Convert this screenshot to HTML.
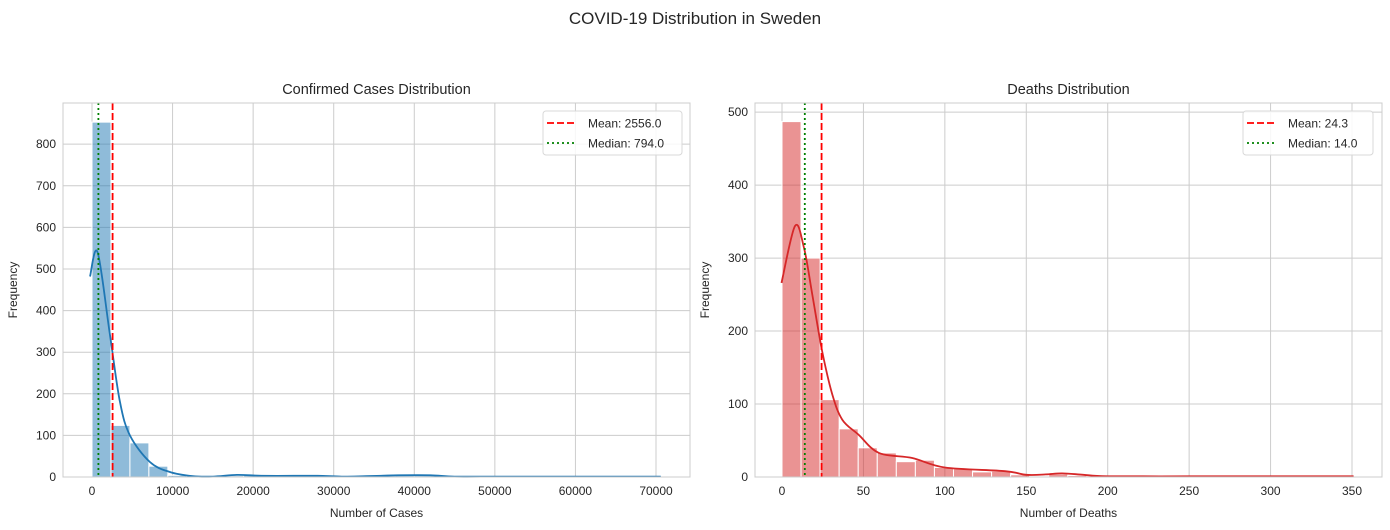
<!DOCTYPE html>
<html><head><meta charset="utf-8"><style>
body{margin:0;background:#fff;}
svg{display:block;font-family:"Liberation Sans",Arial,sans-serif;}
</style></head><body>
<svg id="fig" width="1390" height="530" viewBox="0 0 1390 530">
<text x="695" y="24" font-size="17" text-anchor="middle" fill="#262626">COVID-19 Distribution in Sweden</text>
</svg>
<script>
// ---- Confirmed cases data ----
const casesBinStart = 0;
const casesBinWidth = 2353;
const casesCounts = [853,124,82,26,4,1,0,3,5,2,3,2,2,1,0,2,3,3,3,2,0,0,1,0,0,0,1,0,0,1];
const casesKdeX = [-250,700,2230,3470,4710,7190,9670,12500,15000,18000,21000,25000,28000,31000,34000,38000,42000,45000,50000,55000,60000,65000,70600];
const casesKdeY = [482,540,341,180,100,36,12,2,1,5,3,3,3,1,2,4,4,1,1,1,1,1,1];
const casesXTicks = [0,10000,20000,30000,40000,50000,60000,70000];
const casesYTicks = [0,100,200,300,400,500,600,700,800];
const casesMean = 2556.0;
const casesMedian = 794.0;
// ---- Deaths data ----
const deathsBinStart = 0;
const deathsBinWidth = 11.7;
const deathsCounts = [487,300,106,66,40,33,21,23,13,11,7,8,3,1,4,2,1,1,0,0,1,0,0,0,0,0,0,0,0,1];
const deathsKdeX = [-0.3,8,13.5,18.6,24.7,30.9,37,47,59.5,80,100,137,150,162,172,185,200,250,300,351];
const deathsKdeY = [266,344,314,250,172,113,78.5,58,33,26,13,8,3,3.5,5,3,1,1,1,1];
const deathsXTicks = [0,50,100,150,200,250,300,350];
const deathsYTicks = [0,100,200,300,400,500];
const deathsMean = 24.3;
const deathsMedian = 14.0;

const NS="http://www.w3.org/2000/svg";
const svg=document.getElementById('fig');
function mk(tag,attrs,parent){const e=document.createElementNS(NS,tag);for(const k in attrs)e.setAttribute(k,attrs[k]);(parent||svg).appendChild(e);return e;}
function smoothPath(pts){
  let d='M'+pts[0][0].toFixed(1)+','+pts[0][1].toFixed(1);
  for(let i=0;i<pts.length-1;i++){
    const p0=pts[Math.max(0,i-1)],p1=pts[i],p2=pts[i+1],p3=pts[Math.min(pts.length-1,i+2)];
    const c1x=p1[0]+(p2[0]-p0[0])/6,c1y=p1[1]+(p2[1]-p0[1])/6;
    const c2x=p2[0]-(p3[0]-p1[0])/6,c2y=p2[1]-(p3[1]-p1[1])/6;
    d+='C'+c1x.toFixed(1)+','+c1y.toFixed(1)+' '+c2x.toFixed(1)+','+c2y.toFixed(1)+' '+p2[0].toFixed(1)+','+p2[1].toFixed(1);
  }
  return d;
}

function panel(cfg){
  const g=mk('g',{});
  
  
  const sx=v=>cfg.px0+(v-cfg.x0)*(cfg.px1-cfg.px0)/(cfg.x1-cfg.x0);
  const sy=v=>cfg.bottom-(v)*(cfg.bottom-cfg.top)/cfg.ymax;
  cfg.xTicks.forEach(t=>{
    const l=mk('line',{x1:sx(t),x2:sx(t),y1:cfg.top,y2:cfg.bottom,stroke:'#cccccc','stroke-width':1},g);
    
    
    const tx=mk('text',{x:sx(t),y:cfg.bottom+18,'font-size':12,'text-anchor':'middle',fill:'#262626'},g);
    tx.textContent=t;
    
    
  });
  cfg.yTicks.forEach(t=>{
    const l=mk('line',{x1:cfg.left,x2:cfg.right,y1:sy(t),y2:sy(t),stroke:'#cccccc','stroke-width':1},g);
    
    
    const tx=mk('text',{x:cfg.left-7,y:sy(t)+4,'font-size':12,'text-anchor':'end',fill:'#262626'},g);
    tx.textContent=t;
    
    
  });
  cfg.counts.forEach((c,i)=>{
    const a=cfg.binStart+i*cfg.binWidth, b=a+cfg.binWidth;
    const r=mk('rect',{x:sx(a),y:sy(c),width:sx(b)-sx(a),height:sy(0)-sy(c),fill:cfg.barColor,'fill-opacity':0.5,stroke:'#ffffff','stroke-width':1},g);
    
    
  });
  const pts=cfg.kdeX.map((x,i)=>[sx(x),sy(cfg.kdeY[i])]);
  const p=mk('path',{d:smoothPath(pts),fill:'none',stroke:cfg.lineColor,'stroke-width':1.8,'stroke-linejoin':'round'},g);
  
  
  const ml=mk('line',{x1:sx(cfg.mean),x2:sx(cfg.mean),y1:cfg.top,y2:cfg.bottom,stroke:'#ff0000','stroke-width':1.8,'stroke-dasharray':'7,3'},g);
  
  
  const md=mk('line',{x1:sx(cfg.median),x2:sx(cfg.median),y1:cfg.top,y2:cfg.bottom,stroke:'#008000','stroke-width':1.8,'stroke-dasharray':'2,3'},g);
  
  
  const f=mk('rect',{x:cfg.left,y:cfg.top,width:cfg.right-cfg.left,height:cfg.bottom-cfg.top,fill:'none',stroke:'#cccccc','stroke-width':1},g);
  
  
  const tt=mk('text',{x:(cfg.left+cfg.right)/2,y:cfg.top-9,'font-size':14.5,'text-anchor':'middle',fill:'#262626'},g);
  tt.textContent=cfg.title;
  
  
  const xl=mk('text',{x:(cfg.left+cfg.right)/2,y:cfg.bottom+40,'font-size':12,'text-anchor':'middle',fill:'#262626'},g);
  xl.textContent=cfg.xlabel;
  
  
  const yx=cfg.left-46, yy=(cfg.top+cfg.bottom)/2;
  const yl=mk('text',{x:yx,y:yy,'font-size':12,'text-anchor':'middle',fill:'#262626',transform:'rotate(-90 '+yx+' '+yy+')'},g);
  yl.textContent='Frequency';
  
  
  const lg=mk('g',{},g);
  
  
  mk('rect',{x:cfg.legX,y:111,width:cfg.legW,height:44,rx:3,fill:'#ffffff','fill-opacity':0.85,stroke:'#d8d8d8'},lg);
  const l1=mk('line',{x1:cfg.legX+4,x2:cfg.legX+33,y1:123,y2:123,stroke:'#ff0000','stroke-width':1.8,'stroke-dasharray':'7,3'},lg);
  
  
  const t1=mk('text',{x:cfg.legX+45,y:127.5,'font-size':12,fill:'#262626'},lg);
  t1.textContent='Mean: '+cfg.mean.toFixed(1);
  
  
  const l2=mk('line',{x1:cfg.legX+4,x2:cfg.legX+33,y1:143,y2:143,stroke:'#008000','stroke-width':1.8,'stroke-dasharray':'2,3'},lg);
  
  
  const t2=mk('text',{x:cfg.legX+45,y:147.5,'font-size':12,fill:'#262626'},lg);
  t2.textContent='Median: '+cfg.median.toFixed(1);
  
  
}

panel({name:'cases-panel',left:63,right:690,top:103,bottom:477,x0:0,x1:70000,px0:92,px1:656,ymax:899,
  counts:casesCounts,binStart:casesBinStart,binWidth:casesBinWidth,kdeX:casesKdeX,kdeY:casesKdeY,
  xTicks:casesXTicks,yTicks:casesYTicks,mean:casesMean,median:casesMedian,barColor:'#1f77b4',lineColor:'#1f77b4',
  title:'Confirmed Cases Distribution',xlabel:'Number of Cases',legX:543,legW:139});
panel({name:'deaths-panel',left:755,right:1382,top:103,bottom:477,x0:0,x1:350,px0:782,px1:1352,ymax:512.5,
  counts:deathsCounts,binStart:deathsBinStart,binWidth:deathsBinWidth,kdeX:deathsKdeX,kdeY:deathsKdeY,
  xTicks:deathsXTicks,yTicks:deathsYTicks,mean:deathsMean,median:deathsMedian,barColor:'#d62728',lineColor:'#d62728',
  title:'Deaths Distribution',xlabel:'Number of Deaths',legX:1243,legW:130});
</script>
</body></html>
